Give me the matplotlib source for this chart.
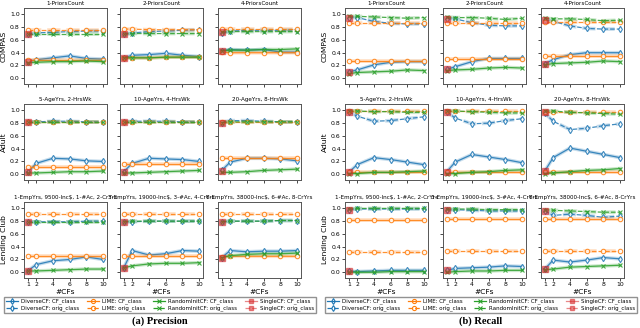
import matplotlib
matplotlib.use('Agg')
import matplotlib.pyplot as plt
from matplotlib.lines import Line2D

plt.rcParams['font.family'] = ['DejaVu Sans']

# #CFs
x = [1, 2, 4, 6, 8, 10]

datasets = ['COMPAS', 'Adult', 'Lending Club']
titles = [
    ['1-PriorsCount', '2-PriorsCount', '4-PriorsCount'],
    ['5-AgeYrs, 2-HrsWk', '10-AgeYrs, 4-HrsWk', '20-AgeYrs, 8-HrsWk'],
    ['1-EmpYrs, 9500-Inc\\$, 1-#Ac, 2-CrYrs',
     '3-EmpYrs, 19000-Inc\\$, 3-#Ac, 4-CrYrs',
     '6-EmpYrs, 38000-Inc\\$, 6-#Ac, 8-CrYrs'],
]

# ---- Precision ----
prec_diverse_cf = [
    [[0.26, 0.29, 0.32, 0.35, 0.31, 0.30], [0.32, 0.36, 0.37, 0.39, 0.36, 0.34], [0.43, 0.45, 0.44, 0.45, 0.41, 0.41]],
    [[0.03, 0.17, 0.25, 0.24, 0.21, 0.20], [0.04, 0.17, 0.25, 0.24, 0.23, 0.20], [0.06, 0.19, 0.25, 0.25, 0.24, 0.21]],
    [[0.02, 0.12, 0.18, 0.20, 0.24, 0.20], [0.07, 0.34, 0.27, 0.29, 0.34, 0.33], [0.23, 0.34, 0.32, 0.33, 0.33, 0.34]],
]
prec_diverse_orig = [
    [[0.69, 0.71, 0.72, 0.73, 0.74, 0.74], [0.69, 0.71, 0.73, 0.74, 0.75, 0.76], [0.71, 0.74, 0.75, 0.75, 0.75, 0.76]],
    [[0.82, 0.82, 0.83, 0.83, 0.82, 0.82], [0.82, 0.83, 0.83, 0.83, 0.82, 0.82], [0.81, 0.84, 0.84, 0.83, 0.82, 0.82]],
    [[0.79, 0.79, 0.79, 0.79, 0.80, 0.80], [0.79, 0.79, 0.80, 0.80, 0.80, 0.80], [0.79, 0.80, 0.80, 0.80, 0.81, 0.81]],
]
prec_lime_cf = [
    [[0.28] * 6, [0.32, 0.32, 0.32, 0.33, 0.33, 0.33], [0.41, 0.40, 0.40, 0.40, 0.40, 0.40]],
    [[0.12] * 6, [0.16] * 6, [0.26] * 6],
    [[0.25] * 6, [0.25] * 6, [0.24, 0.25, 0.25, 0.25, 0.25, 0.25]],
]
prec_lime_orig = [
    [[0.76] * 6, [0.77, 0.77, 0.76, 0.76, 0.76, 0.76], [0.77] * 6],
    [[0.82] * 6, [0.82] * 6, [0.82] * 6],
    [[0.91] * 6, [0.91] * 6, [0.91] * 6],
]
prec_random_cf = [
    [[0.24, 0.25, 0.26, 0.26, 0.27, 0.26], [0.32, 0.32, 0.32, 0.33, 0.33, 0.33], [0.43, 0.44, 0.44, 0.45, 0.45, 0.46]],
    [[0.02, 0.02, 0.03, 0.04, 0.04, 0.05], [0.02, 0.02, 0.03, 0.04, 0.05, 0.06], [0.03, 0.03, 0.04, 0.06, 0.07, 0.08]],
    [[0.02, 0.02, 0.03, 0.04, 0.05, 0.05], [0.07, 0.10, 0.13, 0.14, 0.14, 0.15], [0.23, 0.26, 0.28, 0.29, 0.29, 0.30]],
]
prec_random_orig = [
    [[0.69] * 6, [0.69, 0.70, 0.70, 0.70, 0.70, 0.70], [0.72, 0.73, 0.73, 0.73, 0.73, 0.73]],
    [[0.82] * 6, [0.82] * 6, [0.81, 0.82, 0.82, 0.82, 0.82, 0.82]],
    [[0.79] * 6, [0.79, 0.80, 0.80, 0.80, 0.80, 0.80], [0.79, 0.80, 0.80, 0.80, 0.81, 0.81]],
]
prec_single = [
    [(0.25, 0.69), (0.32, 0.69), (0.43, 0.72)],
    [(0.03, 0.82), (0.04, 0.82), (0.05, 0.81)],
    [(0.02, 0.79), (0.07, 0.79), (0.23, 0.79)],
]

# ---- Recall ----
rec_diverse_cf = [
    [[0.10, 0.13, 0.21, 0.25, 0.26, 0.26], [0.14, 0.18, 0.26, 0.31, 0.31, 0.31], [0.23, 0.29, 0.37, 0.40, 0.40, 0.40]],
    [[0.03, 0.15, 0.26, 0.23, 0.19, 0.15], [0.04, 0.19, 0.31, 0.27, 0.23, 0.18], [0.05, 0.26, 0.41, 0.36, 0.31, 0.26]],
    [[0.02, 0.01, 0.02, 0.03, 0.03, 0.03], [0.03, 0.06, 0.07, 0.08, 0.10, 0.09], [0.05, 0.19, 0.16, 0.19, 0.23, 0.21]],
]
rec_diverse_orig = [
    [[0.95, 0.95, 0.89, 0.86, 0.85, 0.85], [0.93, 0.93, 0.87, 0.83, 0.82, 0.82], [0.91, 0.89, 0.82, 0.78, 0.77, 0.77]],
    [[0.98, 0.91, 0.83, 0.84, 0.87, 0.90], [0.98, 0.88, 0.79, 0.80, 0.84, 0.87], [0.96, 0.83, 0.70, 0.72, 0.76, 0.79]],
    [[0.98, 0.99, 0.99, 0.99, 0.99, 0.99], [0.97, 0.98, 0.97, 0.96, 0.96, 0.96], [0.96, 0.89, 0.91, 0.89, 0.86, 0.88]],
]
rec_lime_cf = [
    [[0.27] * 6, [0.30] * 6, [0.35] * 6],
    [[0.03] * 6, [0.03] * 6, [0.04] * 6],
    [[0.82] * 6, [0.83] * 6, [0.83] * 6],
]
rec_lime_orig = [
    [[0.86] * 6, [0.87] * 6, [0.88] * 6],
    [[0.99] * 6, [0.99] * 6, [0.98] * 6],
    [[0.32] * 6, [0.33] * 6, [0.34] * 6],
]
rec_random_cf = [
    [[0.07, 0.09, 0.10, 0.11, 0.13, 0.12], [0.12, 0.13, 0.14, 0.16, 0.17, 0.16], [0.21, 0.23, 0.24, 0.25, 0.27, 0.26]],
    [[0.01, 0.01, 0.03, 0.03, 0.04, 0.05], [0.01, 0.01, 0.03, 0.04, 0.06, 0.07], [0.01, 0.02, 0.04, 0.06, 0.07, 0.09]],
    [[0.00, 0.00, 0.00, 0.01, 0.01, 0.01], [0.00, 0.01, 0.02, 0.02, 0.03, 0.03], [0.04, 0.05, 0.08, 0.09, 0.10, 0.11]],
]
rec_random_orig = [
    [[0.97, 0.97, 0.96, 0.95, 0.94, 0.95], [0.96, 0.95, 0.95, 0.94, 0.92, 0.94], [0.94, 0.93, 0.93, 0.92, 0.90, 0.91]],
    [[0.99, 0.99, 0.98, 0.98, 0.97, 0.97], [0.99, 0.99, 0.98, 0.97, 0.96, 0.96], [0.99, 0.99, 0.97, 0.96, 0.95, 0.94]],
    [[0.99, 1.00, 1.00, 1.00, 1.00, 1.00], [0.99, 0.99, 0.99, 0.98, 0.98, 0.98], [0.98, 0.97, 0.96, 0.95, 0.94, 0.94]],
]
rec_single = [
    [(0.10, 0.95), (0.14, 0.93), (0.23, 0.91)],
    [(0.03, 0.98), (0.03, 0.98), (0.05, 0.97)],
    [(0.02, 0.98), (0.03, 0.97), (0.05, 0.96)],
]

W, H = 640, 328
fig = plt.figure(figsize=(W / 100, H / 100), dpi=100)

col_left = {'prec': [24, 120, 218], 'rec': [345, 443, 541]}
row_top = [8, 104, 202]
ax_w, ax_h = 83, 76

BLUE, ORANGE, GREEN, RED = 'C0', 'C1', 'C2', 'C3'


def draw_line(ax, y, color, ls, marker):
    # light band behind the line
    ax.plot(x, y, color=color, lw=2.6, alpha=0.25, ls=ls)
    ax.plot(x, y, color=color, lw=0.9, ls=ls, marker=marker, ms=3.2,
            mfc=(1, 1, 1, 0), mec=color, mew=0.8, alpha=0.85)


def draw_panel(key, d_cf, d_orig, l_cf, l_orig, r_cf, r_orig, single):
    for i in range(3):
        for j in range(3):
            left = col_left[key][j]
            ax = fig.add_axes([left / W, 1 - (row_top[i] + ax_h) / H, ax_w / W, ax_h / H])
            draw_line(ax, d_cf[i][j], BLUE, '-', 'd')
            draw_line(ax, d_orig[i][j], BLUE, '--', 'd')
            draw_line(ax, l_cf[i][j], ORANGE, '-', 'o')
            draw_line(ax, l_orig[i][j], ORANGE, '--', 'o')
            draw_line(ax, r_cf[i][j], GREEN, '-', 'x')
            draw_line(ax, r_orig[i][j], GREEN, '--', 'x')
            ax.plot([1], [single[i][j][0]], marker='s', ms=4, color=RED, alpha=0.55, ls='none')
            ax.plot([1], [single[i][j][1]], marker='s', ms=4, color=RED, alpha=0.55, ls='none')
            ax.set_ylim(-0.09, 1.1)
            ax.set_xticks(x)
            ax.set_yticks([0.0, 0.2, 0.4, 0.6, 0.8, 1.0])
            ax.tick_params(labelsize=4.4, length=2, width=0.5, pad=1.0)
            for s in ax.spines.values():
                s.set_linewidth(0.7)
                s.set_color('#555555')
            ax.set_title(titles[i][j], fontsize=4.1, pad=2)
            if j == 0:
                ax.set_ylabel(datasets[i], fontsize=5.4)
                ax.yaxis.set_label_coords(-0.21, 0.5)
            else:
                ax.set_yticklabels([])
            if i == 2:
                ax.set_xlabel('#CFs', fontsize=5.4, labelpad=1)
            else:
                ax.set_xticklabels([])


draw_panel('prec', prec_diverse_cf, prec_diverse_orig, prec_lime_cf, prec_lime_orig,
           prec_random_cf, prec_random_orig, prec_single)
draw_panel('rec', rec_diverse_cf, rec_diverse_orig, rec_lime_cf, rec_lime_orig,
           rec_random_cf, rec_random_orig, rec_single)


def handle(color, ls, marker):
    return Line2D([], [], color=color, ls=ls, lw=0.9, marker=marker, ms=3,
                  mfc=(1, 1, 1, 0), mec=color, mew=0.8)


handles = [
    handle(BLUE, '-', 'd'), handle(BLUE, '--', 'd'),
    handle(ORANGE, '-', 'o'), handle(ORANGE, '--', 'o'),
    handle(GREEN, '-', 'x'), handle(GREEN, '--', 'x'),
    Line2D([], [], color=RED, ls='-', lw=0.9, alpha=0.55, marker='s', ms=3),
    Line2D([], [], color=RED, ls='--', lw=0.9, alpha=0.55, marker='s', ms=3),
]
labels = ['DiverseCF: CF_class', 'DiverseCF: orig_class',
          'LIME: CF_class', 'LIME: orig_class',
          'RandomInitCF: CF_class', 'RandomInitCF: orig_class',
          'SingleCF: CF_class', 'SingleCF: orig_class']

for cx, cap in [(160, '(a) Precision'), (481, '(b) Recall')]:
    fig.legend(handles, labels, ncol=4, fontsize=4.0, loc='center',
               bbox_to_anchor=(cx / W, 1 - 305 / H), frameon=True, fancybox=False,
               edgecolor='#777777', handlelength=2.2, columnspacing=1.3,
               borderpad=0.35, labelspacing=0.25, handletextpad=0.6)
    fig.text(cx / W, 1 - 321 / H, cap, ha='center', va='center', fontsize=7.5,
             fontweight='bold', family='Liberation Serif')

fig.savefig('out.png', dpi=100)
